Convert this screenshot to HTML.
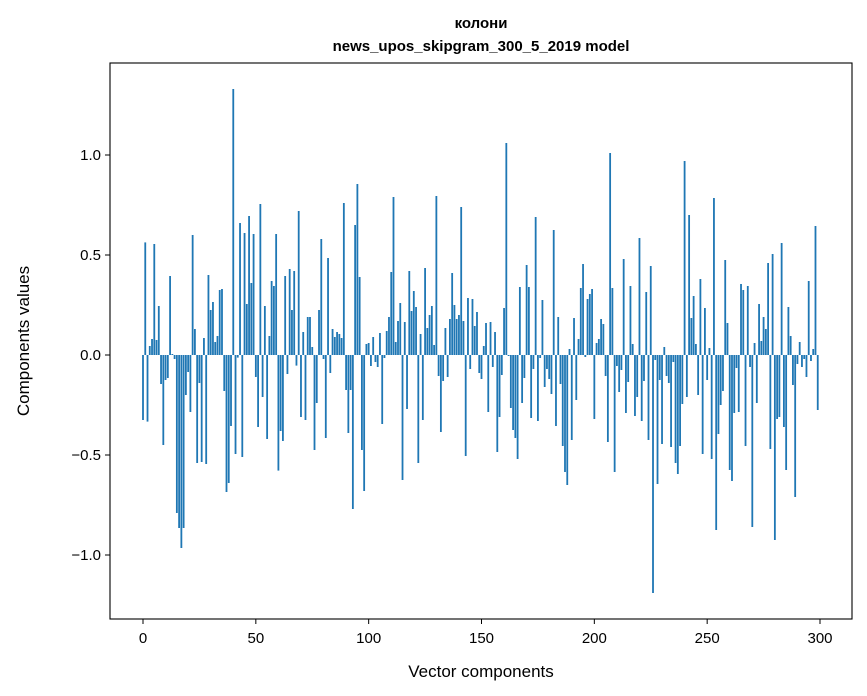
<!DOCTYPE html>
<html><head><meta charset="utf-8"><style>
body{margin:0;background:#fff}
svg{display:block;font-family:"Liberation Sans","DejaVu Sans",sans-serif}
</style></head><body>
<svg id="chart" width="867" height="696">
<rect width="867" height="696" fill="#fff"/>
<text x="481" y="28" text-anchor="middle" font-size="15" font-weight="bold">колони</text>
<text x="481" y="51" text-anchor="middle" font-size="15" font-weight="bold">news_upos_skipgram_300_5_2019 model</text>
<g id="bars"></g>
<g id="axes"></g>
<text x="481" y="677" text-anchor="middle" font-size="17">Vector components</text>
<text transform="translate(29,341) rotate(-90)" text-anchor="middle" font-size="17">Components values</text>
</svg>
<script>
const values = [
-0.325,0.563,-0.333,0.045,0.08,0.555,0.075,0.245,-0.145,-0.45,
-0.125,-0.115,0.395,0.005,-0.02,-0.79,-0.865,-0.965,-0.865,-0.2,
-0.085,-0.285,0.6,0.13,-0.54,-0.14,-0.535,0.085,-0.545,0.4,
0.225,0.265,0.065,0.095,0.325,0.33,-0.18,-0.685,-0.64,-0.355,
1.33,-0.495,-0.013,0.66,-0.51,0.61,0.255,0.695,0.36,0.605,
-0.11,-0.36,0.755,-0.21,0.245,-0.42,0.095,0.37,0.345,0.605,
-0.578,-0.38,-0.43,0.395,-0.095,0.43,0.225,0.42,-0.053,0.72,
-0.31,0.115,-0.325,0.19,0.19,0.04,-0.475,-0.24,0.225,0.58,
-0.02,-0.415,0.485,-0.09,0.13,0.09,0.115,0.105,0.085,0.76,
-0.175,-0.39,-0.175,-0.77,0.65,0.855,0.39,-0.475,-0.68,0.055,
0.06,-0.055,0.09,-0.035,-0.06,0.11,-0.345,-0.015,0.12,0.19,
0.415,0.79,0.065,0.17,0.26,-0.625,0.165,-0.27,0.42,0.22,
0.32,0.24,-0.54,0.105,-0.325,0.435,0.135,0.2,0.245,0.05,
0.795,-0.105,-0.385,-0.13,0.135,-0.11,0.18,0.41,0.25,0.18,
0.2,0.74,0.17,-0.505,0.285,-0.07,0.28,0.145,0.215,-0.09,
-0.12,0.045,0.16,-0.285,0.165,-0.06,0.115,-0.485,-0.31,-0.1,
0.235,1.06,-0.005,-0.265,-0.375,-0.415,-0.52,0.34,-0.24,-0.115,
0.45,0.34,-0.315,-0.07,0.69,-0.33,-0.015,0.275,-0.16,-0.07,
-0.12,-0.195,0.625,-0.355,0.19,-0.145,-0.455,-0.585,-0.65,0.03,
-0.425,0.185,-0.225,0.08,0.335,0.455,-0.01,0.28,0.305,0.33,
-0.32,0.06,0.08,0.18,0.155,-0.105,-0.435,1.01,0.335,-0.585,
-0.055,-0.185,-0.075,0.48,-0.29,-0.135,0.345,0.055,-0.305,-0.21,
0.585,-0.33,-0.13,0.315,-0.425,0.445,-1.19,-0.025,-0.645,-0.125,
-0.445,0.04,-0.105,-0.14,-0.46,-0.035,-0.54,-0.595,-0.455,-0.245,
0.97,-0.21,0.7,0.185,0.295,0.055,-0.2,0.38,-0.495,0.235,
-0.125,0.035,-0.52,0.785,-0.875,-0.395,-0.25,-0.18,0.475,0.16,
-0.575,-0.63,-0.29,-0.065,-0.285,0.355,0.325,-0.455,0.345,-0.06,
-0.86,0.06,-0.24,0.255,0.07,0.19,0.13,0.46,-0.47,0.505,
-0.925,-0.32,-0.31,0.56,-0.36,-0.575,0.24,0.095,-0.15,-0.71,
-0.045,0.065,-0.06,-0.02,-0.11,0.37,-0.03,0.03,0.645,-0.275
];
const xTicks = [0,50,100,150,200,250,300];
const yTicks = [-1.0,-0.5,0.0,0.5,1.0];
const yTickLabels = ["−1.0","−0.5","0.0","0.5","1.0"];

const L=110,R=852,T=63,B=619;
const xs = v => 143 + v*(820-143)/300;
const ys = v => 355 - v*200;
const NS="http://www.w3.org/2000/svg";
const bars=document.getElementById('bars');
const bw = 0.8*(820-143)/300;
values.forEach((v,i)=>{
  const r=document.createElementNS(NS,'rect');
  
  
  r.setAttribute('x',xs(i)-bw/2);
  r.setAttribute('y',Math.min(ys(v),ys(0)));
  r.setAttribute('width',bw);
  r.setAttribute('height',Math.abs(ys(v)-ys(0)));
  r.setAttribute('fill','#1f77b4');
  bars.appendChild(r);
});
const ax=document.getElementById('axes');
const fr=document.createElementNS(NS,'rect');


fr.setAttribute('x',L);fr.setAttribute('y',T);fr.setAttribute('width',R-L);fr.setAttribute('height',B-T);
fr.setAttribute('fill','none');fr.setAttribute('stroke','#000');fr.setAttribute('stroke-width','1.1');
ax.appendChild(fr);
xTicks.forEach(t=>{
  const l=document.createElementNS(NS,'line');
  
  
  l.setAttribute('x1',xs(t));l.setAttribute('x2',xs(t));l.setAttribute('y1',B);l.setAttribute('y2',B+5);
  l.setAttribute('stroke','#000');ax.appendChild(l);
  const tx=document.createElementNS(NS,'text');
  
  
  tx.setAttribute('x',xs(t));tx.setAttribute('y',B+24);tx.setAttribute('text-anchor','middle');tx.setAttribute('font-size','15');
  tx.textContent=t;ax.appendChild(tx);
});
yTicks.forEach((t,i)=>{
  const l=document.createElementNS(NS,'line');
  
  
  l.setAttribute('x1',L-5);l.setAttribute('x2',L);l.setAttribute('y1',ys(t));l.setAttribute('y2',ys(t));
  l.setAttribute('stroke','#000');ax.appendChild(l);
  const tx=document.createElementNS(NS,'text');
  
  
  tx.setAttribute('x',L-9);tx.setAttribute('y',ys(t)+5);tx.setAttribute('text-anchor','end');tx.setAttribute('font-size','15');
  tx.textContent=yTickLabels[i];ax.appendChild(tx);
});
</script>
</body></html>
